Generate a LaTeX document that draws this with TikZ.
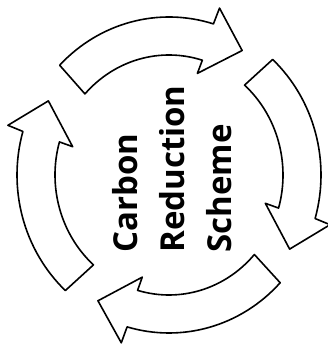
\documentclass[tikz,border=0pt]{standalone}
\usepackage{fontspec}
\setmainfont{Open Sans}
\usetikzlibrary{calc}
\tikzset{
  cyclearrow/.style={draw=black, line width=1.6pt, line join=round, fill=white},
  label/.style={rotate=90, align=left, inner sep=0pt,
    font=\fontsize{33}{47}\selectfont\bfseries}
}
\begin{document}
\begin{tikzpicture}
\useasboundingbox (0pt,0pt) rectangle (328pt,353pt);
\coordinate (C) at (169pt,178pt);
\foreach \T in {136,47,317,227}{
  \pgfmathsetmacro{\N}{\T-63}
  \pgfmathsetmacro{\P}{\N-14.5}
  \pgfmathsetmacro{\Ti}{\T+1.5}
  \draw[cyclearrow] ($(C)+(\T:152pt and 158pt)$)
    arc[start angle=\T, end angle=\N, x radius=152pt, y radius=158pt]
    -- ($(C)+(\N-0.5:168pt and 175pt)$)
    -- ($(C)+(\P:140pt and 146pt)$)
    -- ($(C)+(\N+0.5:100pt and 106pt)$)
    -- ($(C)+(\N:114pt and 120pt)$)
    arc[start angle=\N, end angle=\Ti, x radius=114pt, y radius=120pt]
    -- cycle;
}
\node[label] (t) at (172pt,184pt) {Carbon\\Reduction\\Scheme};
\end{tikzpicture}
\end{document}
